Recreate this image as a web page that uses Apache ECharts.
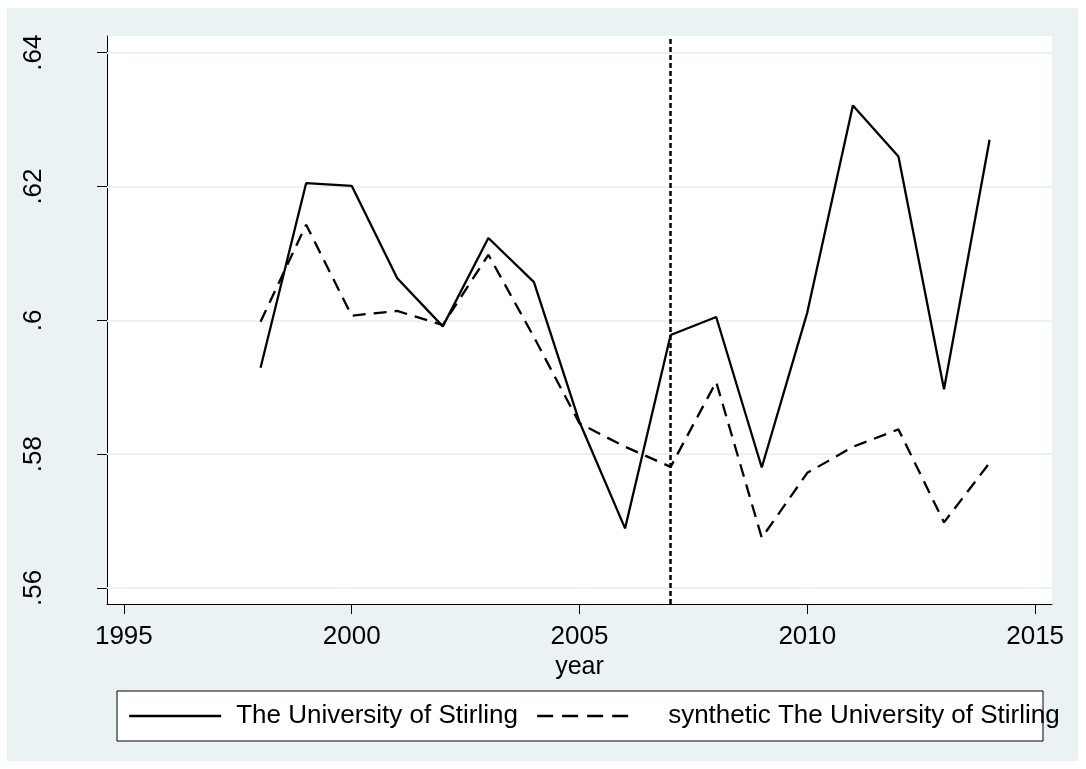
<!DOCTYPE html>
<html>
<head>
<meta charset="utf-8">
<title>The University of Stirling vs synthetic</title>
<script src="https://cdn.jsdelivr.net/npm/echarts@6/dist/echarts.min.js"></script>
<style>
  html, body { margin: 0; padding: 0; background: #ffffff; }
  #chart { width: 1086px; height: 769px; }
</style>
</head>
<body>
<div id="chart"></div>
<script>
// Annual values, 1998-2014
const years = [1998, 1999, 2000, 2001, 2002, 2003, 2004, 2005, 2006, 2007, 2008, 2009, 2010, 2011, 2012, 2013, 2014];
const stirling = [0.5929, 0.6205, 0.6201, 0.6063, 0.5991, 0.6123, 0.6057, 0.5848, 0.5689, 0.5978, 0.6005, 0.5780, 0.6012, 0.6321, 0.6245, 0.5897, 0.6270];
const synthetic = [0.5998, 0.6143, 0.6007, 0.6014, 0.5993, 0.6098, 0.5975, 0.5846, 0.5811, 0.5781, 0.5908, 0.5675, 0.5772, 0.5811, 0.5837, 0.5698, 0.5787];

// Axis ticks and the treatment year
const xTicks = [1995, 2000, 2005, 2010, 2015];
const yTicks = [0.56, 0.58, 0.60, 0.62, 0.64];
const treatmentYear = 2007;

const seriesNames = ['The University of Stirling', 'synthetic The University of Stirling'];

const FONT = 'Liberation Sans, Arial, Helvetica, sans-serif';

function pairs(xs, ys) {
  return xs.map((x, i) => [x, ys[i]]);
}

function fmtY(v) {
  return String(+Number(v).toFixed(2)).replace(/^0/, '');
}

const chart = echarts.init(document.getElementById('chart'), null, { renderer: 'canvas' });

// Shared legend look: a plain line sample, no point marker
const legendBase = {
  top: 701,
  padding: 0,
  itemWidth: 92,
  itemHeight: 14,
  itemStyle: { color: 'transparent', borderWidth: 0, opacity: 0 }
};

chart.setOption({
  backgroundColor: '#ffffff',
  animation: false,
  graphic: [
    {
      type: 'rect',
      z: -10,
      shape: { x: 7, y: 8, width: 1071, height: 753 },
      style: { fill: '#EAF2F3' }
    },
    {
      type: 'rect',
      z: 1,
      shape: { x: 117, y: 691, width: 926, height: 50 },
      style: { fill: '#ffffff', stroke: '#000000', lineWidth: 1 }
    }
  ],
  grid: {
    left: 107,
    top: 36,
    right: 34,
    bottom: 165,
    show: true,
    backgroundColor: '#ffffff',
    borderWidth: 0
  },
  legend: [
    Object.assign({}, legendBase, {
      data: [seriesNames[0]],
      left: 128,
      lineStyle: { type: 'solid', width: 2.3, color: '#000' },
      textStyle: { fontFamily: FONT, fontSize: 26, color: '#000', lineHeight: 30, padding: [0, 0, 0, 10] }
    }),
    Object.assign({}, legendBase, {
      data: [seriesNames[1]],
      left: 536,
      lineStyle: { type: [16, 9], width: 2.3, color: '#000' },
      textStyle: { fontFamily: FONT, fontSize: 26, color: '#000', lineHeight: 30, padding: [0, 0, 0, 34] }
    })
  ],
  xAxis: {
    type: 'value',
    min: 1994.63,
    max: 2015.37,
    name: 'year',
    nameLocation: 'middle',
    nameGap: 47,
    nameTextStyle: { fontFamily: FONT, fontSize: 25, color: '#000' },
    axisLine: { show: true, lineStyle: { color: '#000', width: 1 } },
    axisTick: { show: true, length: 10, customValues: xTicks, lineStyle: { color: '#000', width: 1 } },
    axisLabel: {
      customValues: xTicks,
      margin: 20,
      fontFamily: FONT,
      fontSize: 26,
      color: '#000',
      formatter: v => String(Math.round(v))
    },
    splitLine: { show: false }
  },
  yAxis: {
    type: 'value',
    min: 0.5576,
    max: 0.6425,
    axisLine: { show: true, lineStyle: { color: '#000', width: 1 } },
    axisTick: { show: true, length: 10, customValues: yTicks, lineStyle: { color: '#000', width: 1 } },
    axisLabel: {
      customValues: yTicks,
      rotate: 90,
      margin: 60,
      fontFamily: FONT,
      fontSize: 26,
      color: '#000',
      formatter: fmtY
    },
    splitLine: { show: false }
  },
  series: [
    {
      name: seriesNames[0],
      type: 'line',
      data: pairs(years, stirling),
      symbol: 'none',
      z: 3,
      lineStyle: { color: '#000', width: 2.3, type: 'solid' },
      itemStyle: { color: '#000' },
      markLine: {
        silent: true,
        z: 1,
        symbol: ['none', 'none'],
        label: { show: false },
        lineStyle: { color: '#EAF2F3', width: 2, type: 'solid' },
        data: yTicks.map(v => ({ yAxis: v }))
      }
    },
    {
      name: seriesNames[1],
      type: 'line',
      data: pairs(years, synthetic),
      symbol: 'none',
      z: 3,
      lineStyle: { color: '#000', width: 2.3, type: [13, 8] },
      itemStyle: { color: '#000' },
      markLine: {
        silent: true,
        z: 4,
        symbol: ['none', 'none'],
        label: { show: false },
        lineStyle: { color: '#000', width: 2.5, type: [5, 3] },
        data: [{ xAxis: treatmentYear }]
      }
    }
  ]
});
</script>
</body>
</html>
